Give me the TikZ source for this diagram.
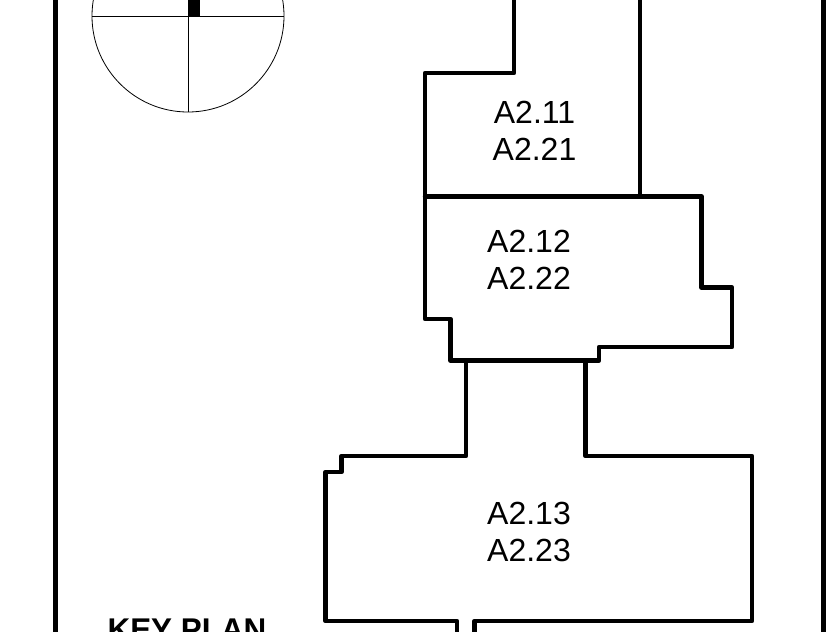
\documentclass[tikz,border=0pt]{standalone}
\usepackage{fontspec}
\setmainfont{Liberation Sans}
\begin{document}
\begin{tikzpicture}[line cap=round,line join=round,x=1pt,y=-1pt,
  wall/.style={line width=4.5pt,color=black},
  roomlabel/.style={inner sep=0pt,font=\fontsize{32}{38}\selectfont}]
\useasboundingbox (0,0) rectangle (831,632);
\clip (0,0) rectangle (831,632);
% frame
\draw[line width=5pt,line cap=butt] (55.5,-5) -- (55.5,640);
\draw[line width=5pt,line cap=butt] (823.5,-5) -- (823.5,640);
% north point
\draw[line width=0.8pt] (188,16) circle (96);
\draw[line width=0.8pt,line cap=butt] (92,16) -- (284,16);
\draw[line width=0.8pt,line cap=butt] (188,16) -- (188,112);
\fill[color=black] (187.5,-5) rectangle (200,16);
% building
\draw[wall] (514,-5) -- (514,73) -- (425,73) -- (425,319) -- (450.5,319) -- (450.5,360.5) -- (599,360.5) -- (599,347) -- (732,347) -- (732,287.5) -- (701.5,287.5) -- (701.5,196.5) -- (425,196.5);
\draw[wall] (640,-5) -- (640,196.5);
\draw[wall] (466,360.5) -- (466,456) -- (341.5,456) -- (341.5,472) -- (325.5,472) -- (325.5,621) -- (457,621) -- (457,640);
\draw[wall] (474.5,640) -- (474.5,621) -- (752,621) -- (752,456) -- (585.5,456) -- (585.5,360.5);
% labels
\node[roomlabel] (a11) at (534.5,112) {A2.11};
\node[roomlabel] (a21) at (534.5,149) {A2.21};
\node[roomlabel] (a12) at (529,241) {A2.12};
\node[roomlabel] (a22) at (529,278) {A2.22};
\node[roomlabel] (a13) at (529,513) {A2.13};
\node[roomlabel] (a23) at (529,550) {A2.23};
\node[roomlabel,font=\fontsize{31.4}{37}\selectfont\bfseries] (keyplan) at (187,629.5) {KEY PLAN};
\end{tikzpicture}
\end{document}
